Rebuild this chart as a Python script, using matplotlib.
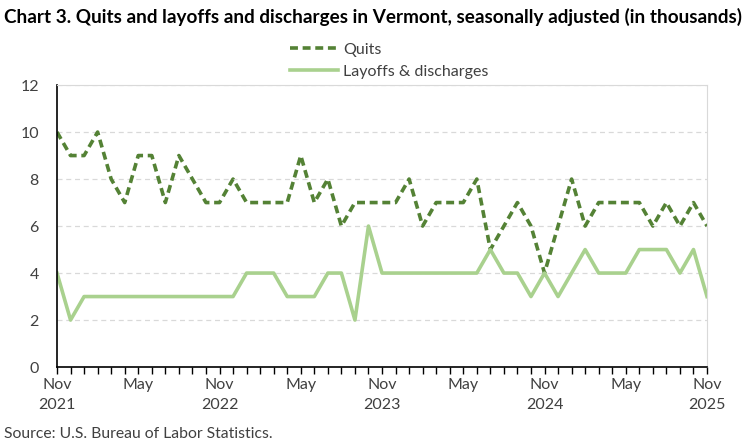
import matplotlib.pyplot as plt
import matplotlib.ticker as mticker

# data (thousands), monthly Nov 2021 .. Nov 2025
months = ['Nov', 'Dec', 'Jan', 'Feb', 'Mar', 'Apr', 'May', 'Jun', 'Jul', 'Aug', 'Sep', 'Oct']
years = [2021, 2022, 2023, 2024, 2025]

quits = [10, 9, 9, 10, 8, 7, 9, 9, 7, 9, 8, 7,
         7, 8, 7, 7, 7, 7, 9, 7, 8, 6, 7, 7,
         7, 7, 8, 6, 7, 7, 7, 8, 5, 6, 7, 6,
         4, 6, 8, 6, 7, 7, 7, 7, 6, 7, 6, 7,
         6]
layoffs = [4, 2, 3, 3, 3, 3, 3, 3, 3, 3, 3, 3,
           3, 3, 4, 4, 4, 3, 3, 3, 4, 4, 2, 6,
           4, 4, 4, 4, 4, 4, 4, 4, 5, 4, 4, 3,
           4, 3, 4, 5, 4, 4, 4, 5, 5, 5, 4, 5,
           3]

# tick labels: every 6 months
n = len(quits)
tick_labels = []
for i in range(n):
    m = months[i % 12]
    if i % 12 == 0:
        tick_labels.append(f'{m}\n{years[i // 12]}')
    elif i % 6 == 0:
        tick_labels.append('May')
    else:
        tick_labels.append('')

plt.rcParams['font.family'] = ['Lato', 'DejaVu Sans']

dark_green = '#548235'
light_green = '#A9D18E'

fig = plt.figure(figsize=(7.5, 4.46), dpi=100)
ax = fig.add_axes([0.076, 0.177, 0.8667, 0.6323])

x = list(range(n))
ax.plot(x, quits, color=dark_green, lw=2.6, linestyle=(0, (2.2, 1.3)), label='Quits')
ax.plot(x, layoffs, color=light_green, lw=2.6, label='Layoffs & discharges')

ax.set_xlim(0, n - 1)
ax.set_ylim(0, 12)
ax.yaxis.set_major_locator(mticker.MultipleLocator(2))
ax.grid(axis='y', color='#d9d9d9', linestyle=(0, (4, 3)), lw=0.9)
ax.set_axisbelow(True)

ax.set_xticks(x)
ax.set_xticklabels(tick_labels, fontsize=11.5, color='#404040', linespacing=1.5)
ax.tick_params(axis='x', length=5, width=1, color='black', pad=3)
ax.tick_params(axis='y', length=0, labelsize=11.5, labelcolor='#404040', pad=13)

for side in ['top', 'right']:
    ax.spines[side].set_color('#d9d9d9')
for side in ['left', 'bottom']:
    ax.spines[side].set_color('black')
    ax.spines[side].set_linewidth(1.2)

fig.legend(loc='upper left', bbox_to_anchor=(0.368, 0.937), frameon=False,
           fontsize=11.5, handlelength=3.0, handletextpad=0.3, labelspacing=0.5,
           labelcolor='#404040')

fig.text(0.005, 0.962, 'Chart 3. Quits and layoffs and discharges in Vermont, seasonally adjusted (in thousands)',
         fontsize=13.6, fontweight='bold', va='center', ha='left', color='black')
fig.text(0.005, 0.028, 'Source: U.S. Bureau of Labor Statistics.', fontsize=11.3,
         va='center', ha='left', color='#404040')

fig.savefig('out.png', dpi=100)
